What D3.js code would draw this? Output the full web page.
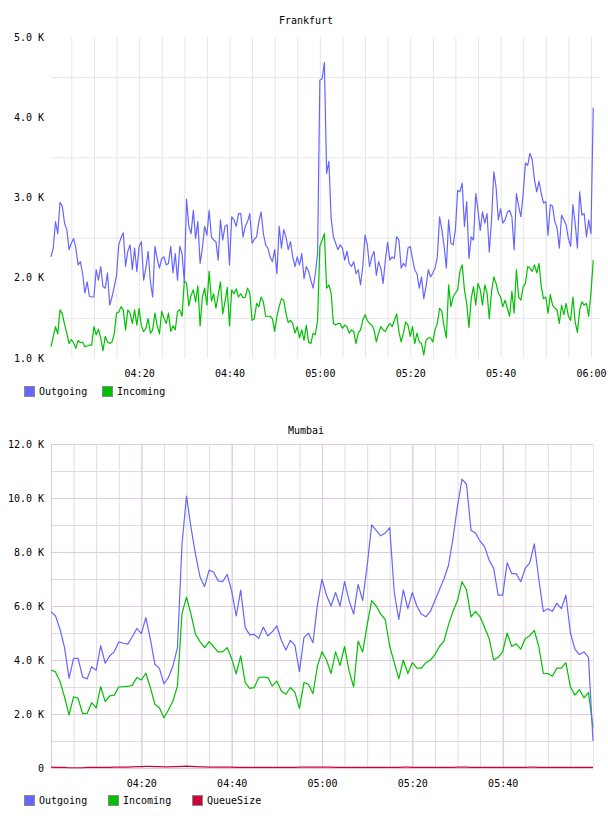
<!DOCTYPE html>
<html>
<head>
<meta charset="utf-8">
<script src="https://cdn.jsdelivr.net/npm/d3@7"></script>
<style>
  body { margin: 0; background: #fff; }
  svg text { font-family: "DejaVu Sans Mono", monospace; font-size: 10px; fill: #000; }
</style>
</head>
<body>
<svg id="chart" width="608" height="816"></svg>
<script>
// ---- Frankfurt: one sample every 30 s, values in K ----
const frankfurtStart = '04:00:30';
const frankfurtStepSec = 30;
const frankfurtDomain = ['04:00:30', '06:02:00'];
const frankfurtOutgoing = [
  2.26, 2.37, 2.70, 2.55, 2.94, 2.89, 2.68, 2.60, 2.35, 2.43,
  2.49, 2.37, 2.16, 2.20, 2.05, 1.81, 1.95, 1.77, 1.76, 1.76,
  2.10, 1.97, 2.14, 1.89, 1.87, 2.06, 1.66, 1.76, 1.89, 2.03,
  2.41, 2.50, 2.56, 2.14, 2.33, 2.41, 2.10, 2.37, 2.08, 2.39,
  2.45, 1.97, 2.12, 2.33, 1.95, 1.76, 2.39, 2.24, 2.12, 2.24,
  2.26, 2.16, 2.18, 2.39, 2.06, 2.30, 1.97, 2.39, 2.30, 1.95,
  2.98, 2.64, 2.55, 2.84, 2.49, 2.70, 2.18, 2.37, 2.64, 2.53,
  2.84, 2.51, 2.47, 2.45, 2.22, 2.72, 2.47, 2.64, 2.66, 2.16,
  2.76, 2.72, 2.64, 2.80, 2.80, 2.51, 2.64,
  2.70, 2.80, 2.43, 2.48, 2.51, 2.70, 2.82, 2.55, 2.41, 2.37,
  2.26, 2.20, 2.35, 2.05, 2.64, 2.37, 2.60, 2.51, 2.35, 2.45,
  2.26, 2.14, 2.26, 2.16, 2.30, 1.99, 2.14, 2.08, 1.97, 1.87,
  2.05, 2.30, 4.46, 4.48, 4.68, 3.30, 3.45, 2.74, 2.51, 2.43,
  2.35, 2.41, 2.37, 2.22, 2.33, 2.18, 2.14, 2.20, 2.05, 2.10,
  1.91, 2.14, 2.53, 2.41, 2.14, 2.26, 2.33, 2.03, 2.20, 2.12,
  1.93, 2.22, 2.44, 2.22, 2.26, 2.24, 2.51, 2.47, 2.12, 2.18,
  2.14, 2.37, 2.39, 2.24, 2.10, 2.05, 1.87,
  2.01, 1.74, 1.89, 2.10, 2.01, 2.06, 2.12, 2.26, 2.76, 2.60,
  2.39, 2.12, 2.72, 2.43, 2.41, 2.60, 3.09, 3.07, 3.18, 2.64,
  2.95, 2.24, 2.51, 2.47, 3.05, 2.84, 2.59, 2.82, 2.68, 2.80,
  2.32, 2.72, 3.32, 3.13, 2.72, 2.86, 2.68, 2.72, 2.82, 2.84,
  2.76, 2.35, 3.05, 2.89, 2.76, 3.05, 3.43, 3.40, 3.55, 3.47,
  3.22, 3.07, 3.20, 3.05, 2.93, 2.95, 2.53, 2.91, 2.89, 2.70,
  2.62, 2.37, 2.78, 2.72, 2.66, 2.49, 2.39, 2.91, 2.68, 2.37,
  3.07, 2.78, 2.80, 2.51, 2.72, 2.55, 4.12
];
const frankfurtIncoming = [
  1.14, 1.27, 1.39, 1.30, 1.60, 1.55, 1.42, 1.31, 1.18, 1.23,
  1.19, 1.12, 1.22, 1.19, 1.20, 1.14, 1.15, 1.16, 1.16, 1.39,
  1.29, 1.36, 1.25, 1.09, 1.27, 1.20, 1.18, 1.20, 1.30, 1.56,
  1.57, 1.64, 1.60, 1.35, 1.60, 1.56, 1.43, 1.60, 1.41, 1.62,
  1.40, 1.33, 1.37, 1.49, 1.31, 1.35, 1.56, 1.40, 1.30, 1.58,
  1.50, 1.43, 1.56, 1.33, 1.40, 1.35, 1.58, 1.60, 1.52, 1.96,
  1.93, 1.65, 1.78, 1.85, 1.70, 1.90, 1.40, 1.76, 1.87, 1.66,
  2.08, 1.71, 1.80, 1.62, 1.78, 1.95, 1.55, 1.70, 1.88, 1.40,
  1.85, 1.80, 1.86, 1.76, 1.80, 1.75, 1.76,
  1.87, 1.81, 1.47, 1.49, 1.68, 1.64, 1.76, 1.70, 1.52, 1.52,
  1.52, 1.49, 1.33, 1.52, 1.64, 1.74, 1.72, 1.56, 1.44, 1.47,
  1.43, 1.31, 1.39, 1.25, 1.35, 1.22, 1.41, 1.20, 1.18, 1.31,
  1.29, 1.47, 2.39, 2.47, 2.55, 1.87, 1.91, 1.81, 1.43, 1.41,
  1.43, 1.43, 1.37, 1.41, 1.39, 1.31, 1.35, 1.33, 1.18, 1.31,
  1.35, 1.47, 1.54, 1.47, 1.43, 1.41, 1.35, 1.20, 1.31, 1.39,
  1.35, 1.33, 1.39, 1.43, 1.39, 1.47, 1.55, 1.33, 1.20, 1.31,
  1.45, 1.41, 1.27, 1.39, 1.18, 1.31, 1.20,
  1.18, 1.04, 1.22, 1.25, 1.25, 1.20, 1.35, 1.43, 1.62, 1.58,
  1.39, 1.25, 1.91, 1.64, 1.76, 1.81, 1.85, 2.08, 2.16, 1.85,
  1.68, 1.38, 1.74, 1.89, 1.66, 1.93, 1.85, 1.66, 1.91, 1.81,
  1.49, 1.83, 2.01, 1.93, 1.81, 1.76, 1.64, 1.72, 1.62, 1.52,
  1.83, 1.56, 2.10, 1.76, 1.72, 1.89, 1.93, 2.14, 2.12, 2.08,
  2.16, 2.06, 2.18, 1.89, 1.74, 1.76, 1.56, 1.79, 1.66, 1.62,
  1.60, 1.43, 1.66, 1.54, 1.68, 1.52, 1.47, 1.76, 1.45, 1.32,
  1.60, 1.70, 1.66, 1.68, 1.52, 1.81, 2.22
];
const frankfurtYTicks = [1, 2, 3, 4, 5];
const frankfurtXTicks = ['04:20', '04:40', '05:00', '05:20', '05:40', '06:00'];

// ---- Mumbai: one sample per minute, values in K ----
const mumbaiStart = '04:00:00';
const mumbaiStepSec = 60;
const mumbaiDomain = ['04:00:00', '06:00:00'];
const mumbaiOutgoing = [
  5.79, 5.63, 5.14, 4.46, 3.32, 4.06, 4.06, 3.37, 3.30, 3.75,
  3.62, 4.53, 3.88, 4.15, 4.31, 4.67, 4.62, 4.59, 4.86, 5.17,
  4.98, 5.57, 4.77, 3.84, 3.69, 3.12, 3.35, 3.78, 4.46, 8.28,
  10.07, 8.90, 7.91, 7.07, 6.72, 7.33, 7.26, 6.93, 6.90, 7.17,
  6.56, 5.63, 6.59, 5.20, 4.93, 4.95, 4.80, 5.22, 4.89, 5.05,
  5.26, 4.73, 4.37, 4.73, 4.54, 3.57, 4.83, 4.99, 4.64, 6.06,
  6.99, 6.4, 6.0, 6.5, 6.0, 6.9, 6.2, 5.7, 6.8, 6.2,
  7.5, 9.0, 8.8, 8.6, 8.7, 8.9, 6.5, 5.5, 6.6, 5.9,
  6.5, 6.0, 5.7, 5.6, 5.8, 6.2, 6.6, 7.0, 7.5, 8.5,
  9.7, 10.7, 10.5, 8.8, 8.7, 8.4, 8.2, 7.7, 7.4, 6.4,
  6.4, 7.6, 7.2, 7.2, 6.9, 7.4, 7.6, 8.3, 7.0, 5.8,
  5.9, 5.8, 6.1, 5.9, 6.4, 5.0, 4.4, 4.2, 4.3, 4.1,
  1.0
];
const mumbaiIncoming = [
  3.63, 3.56, 3.20, 2.63, 1.96, 2.64, 2.58, 2.01, 2.02, 2.42,
  2.23, 3.01, 2.46, 2.67, 2.70, 3.00, 3.01, 3.02, 3.06, 3.35,
  3.26, 3.51, 2.98, 2.36, 2.23, 1.86, 2.15, 2.48, 3.04, 5.72,
  6.33, 5.69, 4.95, 4.68, 4.46, 4.68, 4.49, 4.30, 4.30, 4.46,
  4.05, 3.49, 4.15, 3.16, 2.95, 2.98, 3.35, 3.37, 3.35, 3.04,
  3.22, 2.85, 2.73, 2.98, 2.81, 2.21, 3.16, 3.10, 2.75, 3.78,
  4.30, 4.0, 3.5, 4.3, 3.8, 4.5, 3.6, 3.0, 4.7, 4.3,
  5.3, 6.2, 6.0, 5.7, 5.5, 4.5, 3.9, 3.3, 4.0, 3.5,
  3.9, 3.7, 3.7, 3.9, 4.0, 4.2, 4.5, 4.7, 5.3, 5.8,
  6.2, 6.9, 6.6, 5.6, 5.8, 5.6, 5.2, 4.8, 4.0, 4.1,
  4.3, 5.0, 4.5, 4.6, 4.4, 4.8, 4.9, 5.1, 4.5, 3.5,
  3.5, 3.4, 3.7, 3.7, 3.9, 3.0, 2.7, 2.9, 2.6, 2.8,
  1.5
];
const mumbaiQueueSize = [
  0.03, 0.02, 0.02, 0.02, 0.01, 0.01, 0.01, 0.01, 0.02, 0.02, 0.02, 0.02, 0.02, 0.02, 0.03, 0.03, 0.03, 0.03, 0.04, 0.05,
  0.05, 0.06, 0.06, 0.05, 0.05, 0.04, 0.04, 0.05, 0.05, 0.06, 0.07, 0.06, 0.05, 0.04, 0.04, 0.03, 0.03, 0.03, 0.03, 0.03,
  0.03, 0.02, 0.02, 0.02, 0.02, 0.02, 0.02, 0.02, 0.02, 0.02, 0.02, 0.02, 0.02, 0.02, 0.02, 0.03, 0.03, 0.03, 0.03, 0.03,
  0.03, 0.03, 0.03, 0.02, 0.02, 0.02, 0.02, 0.02, 0.02, 0.02, 0.02, 0.02, 0.02, 0.02, 0.02, 0.02, 0.02, 0.02, 0.03, 0.03,
  0.02, 0.02, 0.02, 0.02, 0.02, 0.02, 0.02, 0.02, 0.02, 0.02, 0.03, 0.03, 0.03, 0.02, 0.02, 0.02, 0.02, 0.02, 0.02, 0.02,
  0.02, 0.02, 0.02, 0.02, 0.02, 0.02, 0.03, 0.03, 0.02, 0.02, 0.02, 0.02, 0.02, 0.02, 0.02, 0.02, 0.02, 0.02, 0.02, 0.02,
  0.02
];
const mumbaiYTicks = [0, 2, 4, 6, 8, 10, 12];
const mumbaiXTicks = ['04:20', '04:40', '05:00', '05:20', '05:40'];

const seriesColors = { Outgoing: '#6666ff', Incoming: '#00c000', QueueSize: '#d0003a' };

const parseClock = d3.timeParse('%H:%M:%S');
const parseTick = d3.timeParse('%H:%M');
const fmtK = (v) => (v === 0 ? '0' : v.toFixed(1) + ' K');

function timesFrom(start, stepSec, n) {
  const t0 = parseClock(start);
  return d3.range(n).map((i) => new Date(t0.getTime() + i * stepSec * 1000));
}

const svg = d3.select('#chart');

function drawChart(cfg) {
  const g = svg.append('g');
  const { left, right, top, bottom } = cfg.box;
  const width = right - left;
  const height = bottom - top;

  const x = d3.scaleTime().domain(cfg.domain.map(parseClock)).range([left, right]);
  const y = d3.scaleLinear().domain(cfg.yDomain).range([bottom, top]);

  g.append('text')
    .attr('x', cfg.titleX)
    .attr('y', cfg.titleY)
    .attr('text-anchor', 'middle')
    .text(cfg.title);

  // minor grid
  g.append('g')
    .attr('transform', `translate(0,${bottom})`)
    .call(d3.axisBottom(x).ticks(d3.timeMinute.every(5)).tickSize(-height).tickFormat(''))
    .call((a) => a.select('.domain').remove())
    .selectAll('line').attr('stroke', cfg.minorColor);
  g.append('g')
    .attr('transform', `translate(${left},0)`)
    .call(d3.axisLeft(y).tickValues(cfg.minorY).tickSize(-width).tickFormat(''))
    .call((a) => a.select('.domain').remove())
    .selectAll('line').attr('stroke', cfg.minorColor);

  // major grid
  if (cfg.majorColor) {
    g.append('g')
      .attr('transform', `translate(0,${bottom})`)
      .call(d3.axisBottom(x).ticks(d3.timeMinute.every(20)).tickSize(-height).tickFormat(''))
      .call((a) => a.select('.domain').remove())
      .selectAll('line').attr('stroke', cfg.majorColor);
    g.append('g')
      .attr('transform', `translate(${left},0)`)
      .call(d3.axisLeft(y).tickValues(cfg.yTicks).tickSize(-width).tickFormat(''))
      .call((a) => a.select('.domain').remove())
      .selectAll('line').attr('stroke', cfg.majorColor);
    g.append('line')
      .attr('x1', left + 0.5).attr('x2', left + 0.5)
      .attr('y1', top).attr('y2', bottom)
      .attr('stroke', cfg.majorColor);
    g.append('line')
      .attr('x1', right + 0.5).attr('x2', right + 0.5)
      .attr('y1', top).attr('y2', bottom)
      .attr('stroke', cfg.borderColor);
  }

  // axes labels
  g.append('g')
    .attr('transform', `translate(0,${bottom})`)
    .call(d3.axisBottom(x).tickValues(cfg.xTicks.map(parseTick)).tickSize(0).tickPadding(12)
      .tickFormat(d3.timeFormat('%H:%M')))
    .call((a) => a.select('.domain').remove())
    .selectAll('text').attr('font-family', null).attr('font-size', null);
  g.append('g')
    .attr('transform', `translate(${left},0)`)
    .call(d3.axisLeft(y).tickValues(cfg.yTicks).tickSize(0).tickPadding(7).tickFormat(fmtK))
    .call((a) => a.select('.domain').remove())
    .selectAll('text').attr('font-family', null).attr('font-size', null);

  // lines
  const times = timesFrom(cfg.start, cfg.stepSec, cfg.series[0].values.length);
  const line = d3.line()
    .x((d, i) => x(times[i]))
    .y((d) => y(d));
  cfg.series.slice().reverse().forEach((s) => {
    g.append('path')
      .datum(s.values)
      .attr('fill', 'none')
      .attr('stroke', seriesColors[s.name])
      .attr('stroke-width', 1.2)
      .attr('stroke-linejoin', 'round')
      .attr('d', line);
  });

  // legend
  const leg = g.append('g').attr('transform', `translate(24,${cfg.legendY})`);
  cfg.series.forEach((s, i) => {
    const item = leg.append('g').attr('transform', `translate(${i * cfg.legendStep},0)`);
    item.append('rect')
      .attr('x', 0.5).attr('y', 0.5)
      .attr('width', 10).attr('height', 10)
      .attr('fill', seriesColors[s.name])
      .attr('stroke', '#888');
    item.append('text')
      .attr('x', 15)
      .attr('y', 9)
      .text(s.name);
  });
}

drawChart({
  title: 'Frankfurt', titleX: 306, titleY: 24,
  box: { left: 51, right: 600, top: 37, bottom: 358 },
  domain: frankfurtDomain, start: frankfurtStart, stepSec: frankfurtStepSec,
  yDomain: [1, 5], yTicks: frankfurtYTicks, minorY: [1.5, 2.5, 3.5, 4.5],
  xTicks: frankfurtXTicks,
  minorColor: '#e6e6e6', majorColor: null,
  series: [
    { name: 'Outgoing', values: frankfurtOutgoing },
    { name: 'Incoming', values: frankfurtIncoming }
  ],
  legendY: 386, legendStep: 78
});

drawChart({
  title: 'Mumbai', titleX: 306, titleY: 434,
  box: { left: 51, right: 593, top: 444, bottom: 768 },
  domain: mumbaiDomain, start: mumbaiStart, stepSec: mumbaiStepSec,
  yDomain: [0, 12], yTicks: mumbaiYTicks, minorY: [1, 3, 5, 7, 9, 11],
  xTicks: mumbaiXTicks,
  minorColor: '#dddddd', majorColor: '#e2c6e2', borderColor: '#f0e0f0',
  series: [
    { name: 'Outgoing', values: mumbaiOutgoing },
    { name: 'Incoming', values: mumbaiIncoming },
    { name: 'QueueSize', values: mumbaiQueueSize }
  ],
  legendY: 795, legendStep: 84
});
</script>
</body>
</html>
